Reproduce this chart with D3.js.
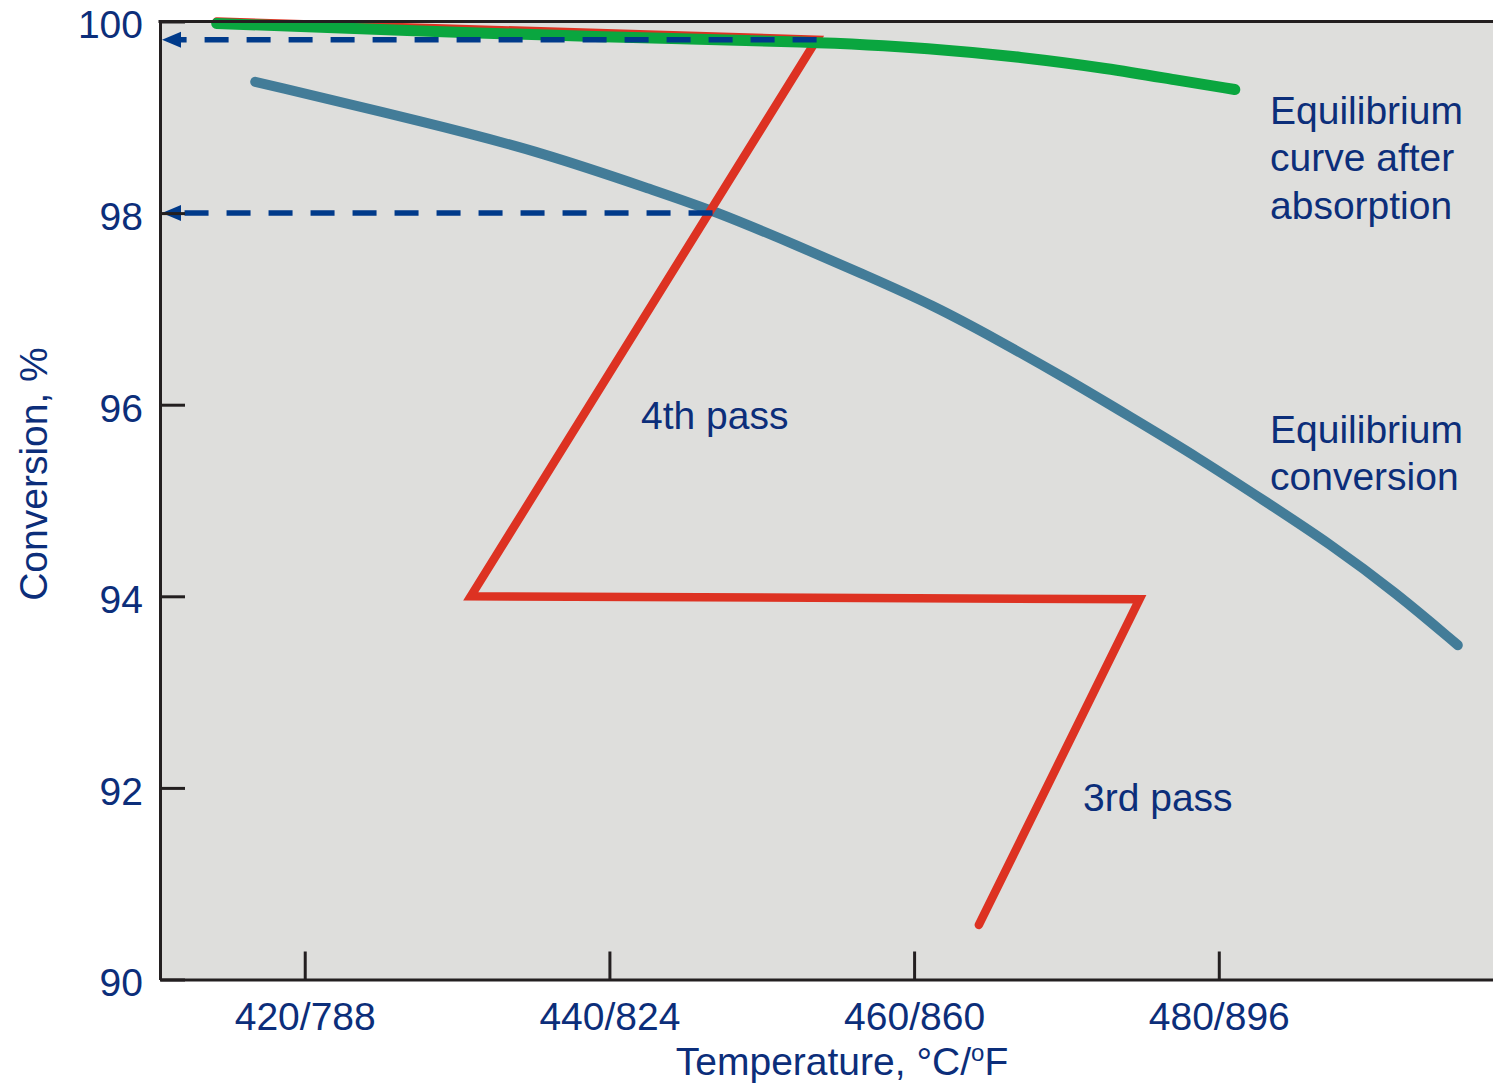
<!DOCTYPE html>
<html>
<head>
<meta charset="utf-8">
<script src="https://cdn.jsdelivr.net/npm/d3@7"></script>
<style>
  html, body { margin: 0; padding: 0; background: #ffffff; }
  svg { display: block; }
  text { font-family: "Liberation Sans", Arial, Helvetica, sans-serif; }
</style>
</head>
<body>
<svg id="chart" width="1493" height="1087"></svg>
<script>
// Axis ticks
const tempTicks = [420, 440, 460, 480];
const tempTickLabels = ["420/788", "440/824", "460/860", "480/896"];
const convTicks = [90, 92, 94, 96, 98, 100];

// Equilibrium conversion curve (temperature °C, conversion %)
const eqTemp = [416.75, 428.18, 435.69, 443.24, 446.78, 452.50, 456.83, 461.23, 465.56, 469.90, 474.23, 478.62, 482.96, 487.29, 491.69, 495.69];
const eqConv = [99.37, 98.94, 98.63, 98.22, 98.03, 97.65, 97.35, 97.04, 96.67, 96.28, 95.87, 95.45, 95.00, 94.55, 94.03, 93.49];

// Equilibrium curve after intermediate absorption
const absTemp = [414.22, 427.42, 439.10, 453.68, 461.20, 467.00, 472.78, 477.15, 481.05];
const absConv = [99.98, 99.90, 99.84, 99.79, 99.72, 99.63, 99.51, 99.39, 99.29];

// Operating line: 3rd pass, cooling, 4th pass
const passTemp = [464.25, 474.80, 430.90, 453.60, 414.22];
const passConv = [90.57, 93.97, 94.00, 99.81, 100.00];

// Read-off lines to the conversion axis
const readTemp = [453.60, 446.77];
const readConv = [99.81, 98.00];

const svg = d3.select("#chart");
const W = 1493;
const plot = { left: 160, top: 21.5, right: W, bottom: 979.5 };

const x = d3.scaleLinear().domain([410.5, 498]).range([plot.left, plot.right]);
const y = d3.scaleLinear().domain([90, 100]).range([plot.bottom, plot.top]);

const textColor = "#0c2e7a";
const axisColor = "#231f20";

// plot background
svg.append("rect")
  .attr("x", plot.left).attr("y", plot.top)
  .attr("width", plot.right - plot.left).attr("height", plot.bottom - plot.top)
  .attr("fill", "#dededc");

const smooth = d3.line().x(d => x(d[0])).y(d => y(d[1])).curve(d3.curveBasis);
const straight = d3.line().x(d => x(d[0])).y(d => y(d[1]));

// equilibrium conversion
svg.append("path")
  .attr("d", smooth(d3.zip(eqTemp, eqConv)))
  .attr("fill", "none").attr("stroke", "#437c98").attr("stroke-width", 10)
  .attr("stroke-linecap", "round").attr("stroke-linejoin", "round");

// passes
svg.append("path")
  .attr("d", straight(d3.zip(passTemp, passConv)))
  .attr("fill", "none").attr("stroke", "#dd3222").attr("stroke-width", 8.5)
  .attr("stroke-linecap", "round").attr("stroke-linejoin", "miter").attr("stroke-miterlimit", 10);

// equilibrium after absorption
svg.append("path")
  .attr("d", smooth(d3.zip(absTemp, absConv)))
  .attr("fill", "none").attr("stroke", "#0aa63f").attr("stroke-width", 11)
  .attr("stroke-linecap", "round").attr("stroke-linejoin", "round");

// dashed read-off arrows
const dashColor = "#003a8a";
readTemp.forEach((t, i) => {
  const yy = y(readConv[i]);
  const tip = plot.left + 2;
  const base = plot.left + 21;
  svg.append("line")
    .attr("x1", x(t)).attr("y1", yy)
    .attr("x2", base).attr("y2", yy)
    .attr("stroke", dashColor).attr("stroke-width", 5.5)
    .attr("stroke-dasharray", "24,18");
  svg.append("path")
    .attr("d", `M${tip},${yy}L${base},${yy - 8}L${base},${yy + 8}Z`)
    .attr("fill", dashColor);
});

// axes
const xAxis = d3.axisBottom(x)
  .tickValues(tempTicks)
  .tickFormat((d, i) => tempTickLabels[i])
  .tickSize(-28).tickSizeOuter(0).tickPadding(23);
const yAxis = d3.axisLeft(y)
  .tickValues(convTicks)
  .tickFormat(d3.format("d"))
  .tickSize(-25).tickSizeOuter(0).tickPadding(17);

const gx = svg.append("g").attr("transform", `translate(0,${plot.bottom})`).call(xAxis);
const gy = svg.append("g").attr("transform", `translate(${plot.left},0)`).call(yAxis);

[gx, gy].forEach(g => {
  g.select(".domain").attr("stroke", axisColor).attr("stroke-width", 3);
  g.selectAll(".tick line").attr("stroke", axisColor).attr("stroke-width", 3);
  g.selectAll(".tick text")
    .attr("fill", textColor)
    .style("font-family", "'Liberation Sans', Arial, sans-serif")
    .style("font-size", "39px");
});
gy.selectAll(".tick text").attr("dy", "0.38em").attr("y", 1.5);

// top frame edge
svg.append("line")
  .attr("x1", plot.left - 1.5).attr("x2", plot.right)
  .attr("y1", plot.top).attr("y2", plot.top)
  .attr("stroke", axisColor).attr("stroke-width", 3);

// axis titles
const xt = svg.append("text")
  .attr("x", 842).attr("y", 1075)
  .attr("text-anchor", "middle")
  .attr("fill", textColor).style("font-size", "39px");
xt.append("tspan").text("Temperature, °C/");
xt.append("tspan").text("o").style("font-size", "24px").attr("dy", -14);
xt.append("tspan").text("F").attr("dy", 14);

svg.append("text")
  .attr("transform", "translate(47,474) rotate(-90)")
  .attr("text-anchor", "middle")
  .attr("fill", textColor).style("font-size", "39px")
  .text("Conversion, %");

// curve and pass annotations
function label(lines, px, py) {
  const t = svg.append("text")
    .attr("x", px).attr("y", py)
    .attr("fill", textColor).style("font-size", "39px");
  lines.forEach((s, i) => {
    t.append("tspan").attr("x", px).attr("dy", i === 0 ? 0 : 47.5).text(s);
  });
}
label(["Equilibrium", "curve after", "absorption"], 1270, 123.5);
label(["Equilibrium", "conversion"], 1270, 442.5);
label(["4th pass"], 641, 429);
label(["3rd pass"], 1083, 811);
</script>
</body>
</html>
